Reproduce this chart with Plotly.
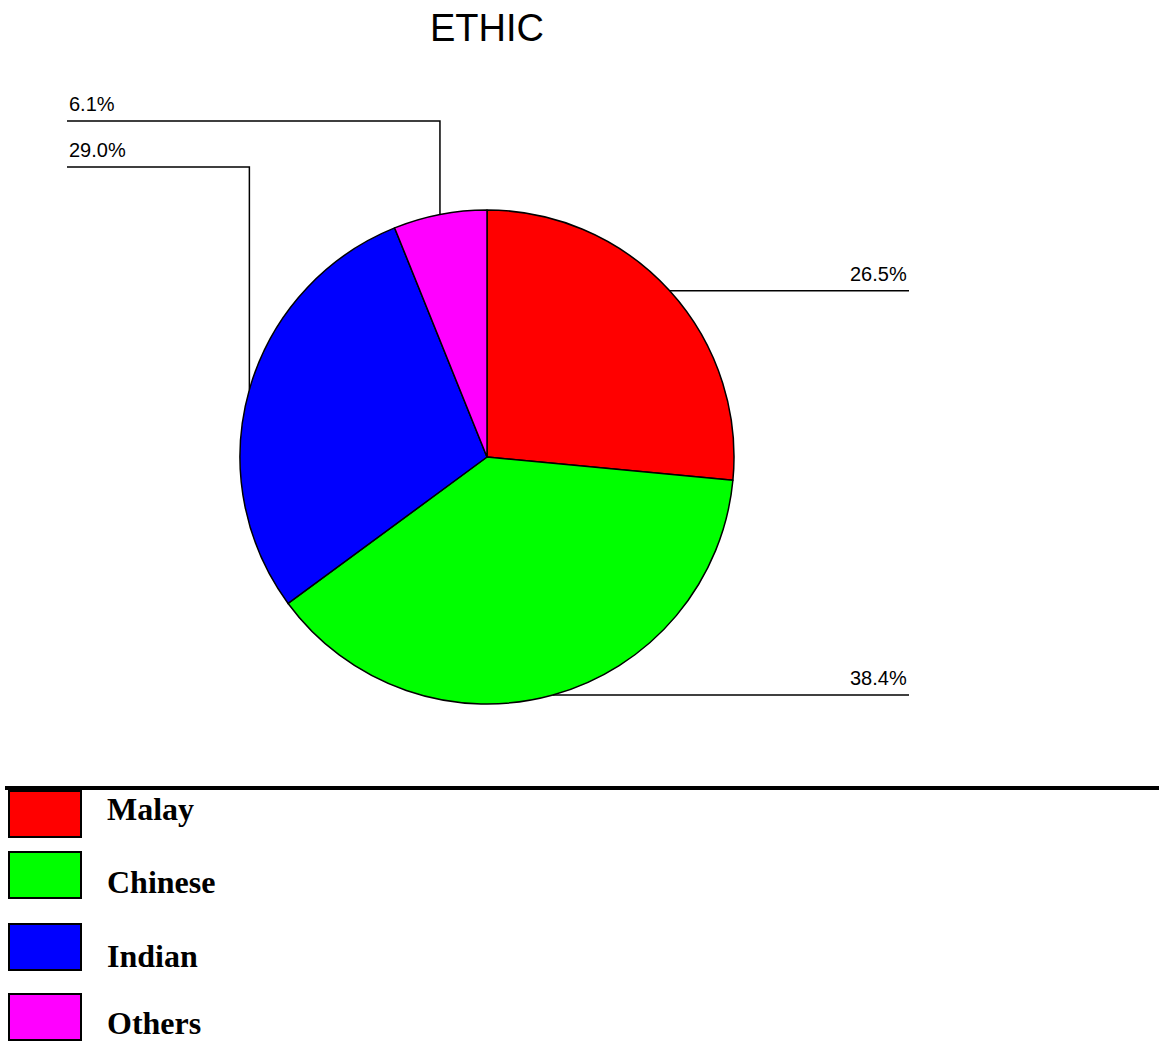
import math
import plotly.graph_objects as go

# ---- data ----
categories = ["Malay", "Chinese", "Indian", "Others"]
percentages = [26.5, 38.4, 29.0, 6.1]
colors = ["#ff0000", "#00ff00", "#0000ff", "#ff00ff"]
title_text = "ETHIC"

# ---- layout constants (pixels) ----
W, H = 1159, 1043
CX, CY, R = 487, 457, 247
LEFT_X, RIGHT_X = 67, 909
left_levels = {"Indian": 167, "Others": 121}
LEGEND_LINE_Y = 788
legend_box_tops = [790, 851, 923, 993]
legend_box_h = 48
legend_text_centers = [809, 882, 956, 1023]


def px(x):
    return x / W


def py(y):
    return 1 - y / H


fig = go.Figure(
    go.Pie(
        labels=categories,
        values=percentages,
        sort=False,
        direction="clockwise",
        rotation=0,
        marker=dict(colors=colors, line=dict(color="black", width=1.5)),
        textinfo="none",
        hoverinfo="label+percent",
        showlegend=False,
        domain=dict(x=[px(CX - R), px(CX + R)], y=[py(CY + R), py(CY - R)]),
    )
)

shapes = []
annotations = []
total = sum(percentages)
cum = 0.0
for cat, val in zip(categories, percentages):
    mid = (cum + val / 2) / total * 2 * math.pi
    cum += val
    ax = CX + R * math.sin(mid)
    ay = CY - R * math.cos(mid)
    label = f"{val:.1f}%"
    if cat in left_levels:
        ly = left_levels[cat]
        shapes.append(dict(
            type="path", xref="paper", yref="paper",
            path=f"M {px(LEFT_X)},{py(ly)} L {px(ax)},{py(ly)} L {px(ax)},{py(ay)}",
            line=dict(color="black", width=1.5),
        ))
        annotations.append(dict(
            x=px(LEFT_X), y=py(ly), xref="paper", yref="paper",
            xanchor="left", yanchor="bottom", yshift=4, showarrow=False,
            text=label, font=dict(family="Liberation Sans, Arial", size=20, color="black"),
        ))
    else:
        shapes.append(dict(
            type="line", xref="paper", yref="paper",
            x0=px(ax), y0=py(ay), x1=px(RIGHT_X), y1=py(ay),
            line=dict(color="black", width=1.5),
        ))
        annotations.append(dict(
            x=px(RIGHT_X), y=py(ay), xref="paper", yref="paper",
            xanchor="right", yanchor="bottom", yshift=4, showarrow=False,
            text=label, font=dict(family="Liberation Sans, Arial", size=20, color="black"),
        ))

# title
annotations.append(dict(
    x=px(CX), y=py(28), xref="paper", yref="paper",
    xanchor="center", yanchor="middle", showarrow=False,
    text=title_text, font=dict(family="Liberation Sans, Arial", size=38, color="black"),
))

# legend
shapes.append(dict(
    type="line", xref="paper", yref="paper",
    x0=px(5), y0=py(LEGEND_LINE_Y), x1=1, y1=py(LEGEND_LINE_Y),
    line=dict(color="black", width=4),
))
for cat, col, top, tc in zip(categories, colors, legend_box_tops, legend_text_centers):
    shapes.append(dict(
        type="rect", xref="paper", yref="paper",
        x0=px(9), x1=px(81), y0=py(top + legend_box_h - 1), y1=py(top + 1),
        fillcolor=col, line=dict(color="black", width=2),
    ))
    annotations.append(dict(
        x=px(105), y=py(tc), xref="paper", yref="paper",
        xanchor="left", yanchor="middle", showarrow=False,
        text=f"<b>{cat}</b>",
        font=dict(family="Liberation Serif, Times New Roman", size=32, color="black"),
    ))

fig.update_layout(
    width=W, height=H,
    margin=dict(l=0, r=0, t=0, b=0),
    paper_bgcolor="white", plot_bgcolor="white",
    shapes=shapes, annotations=annotations,
)

fig.write_html("out.html")
